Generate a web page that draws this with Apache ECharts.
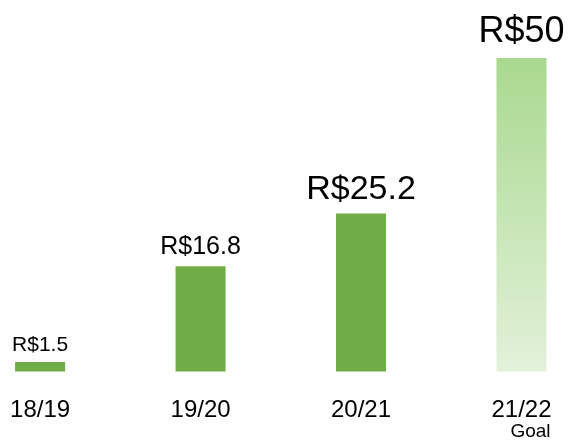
<!DOCTYPE html>
<html>
<head>
<meta charset="utf-8">
<script src="https://cdn.jsdelivr.net/npm/echarts@6/dist/echarts.min.js"></script>
<style>
  html, body { margin: 0; padding: 0; background: #fff; }
  #main { width: 568px; height: 441px; }
</style>
</head>
<body>
<div id="main"></div>
<script type="text/javascript">
    // data
    var categories = ['18/19', '19/20', '20/21', '21/22'];
    var values = [1.5, 16.8, 25.2, 50];
    var valueLabels = ['R$1.5', 'R$16.8', 'R$25.2', 'R$50'];

    var myChart = echarts.init(document.getElementById('main'), null, {renderer: 'canvas'});

    var green = '#70AD47';
    var goalColor = new echarts.graphic.LinearGradient(0, 0, 0, 1, [
        {offset: 0, color: '#A9D98F'},
        {offset: 1, color: '#E3F1DA'}
    ]);
    var font = 'Liberation Sans, Arial, sans-serif';
    // label font size / gap grow with the bar
    var fontSizes = [21, 25, 34, 36];
    var gaps = [6, 7, 7, 8];

    var seriesData = [];
    var idx = [];
    for (var i = 0; i < values.length; i++) {
        idx.push(i);
        seriesData.push({
            value: [i, values[i]],
            itemStyle: {color: i === values.length - 1 ? goalColor : green},
            label: {
                show: true,
                position: 'top',
                distance: gaps[i],
                formatter: valueLabels[i],
                fontSize: fontSizes[i],
                color: '#000',
                fontFamily: font
            }
        });
    }

    var option = {
        animation: false,
        grid: {
            left: 0,
            right: 0,
            top: 58,
            bottom: 69,
            containLabel: false
        },
        xAxis: {
            type: 'value',
            min: -0.25,
            max: 3.29,
            splitLine: {show: false},
            axisLine: {show: false},
            axisTick: {show: false},
            axisLabel: {
                customValues: idx,
                margin: 27,
                fontSize: 24,
                color: '#000',
                fontFamily: font,
                formatter: function (v) {
                    var c = categories[Math.round(v)];
                    if (Math.round(v) === categories.length - 1) {
                        return c + '\n{g|Goal}';
                    }
                    return c;
                },
                rich: {
                    g: {
                        fontSize: 19,
                        color: '#000',
                        fontFamily: font,
                        padding: [0, 0, 0, 18],
                        lineHeight: 18
                    }
                }
            }
        },
        yAxis: {
            type: 'value',
            min: 0,
            max: 50,
            show: false,
            splitLine: {show: false}
        },
        series: [{
            type: 'bar',
            barWidth: 50,
            data: seriesData
        }]
    };

    myChart.setOption(option);
</script>
</body>
</html>
